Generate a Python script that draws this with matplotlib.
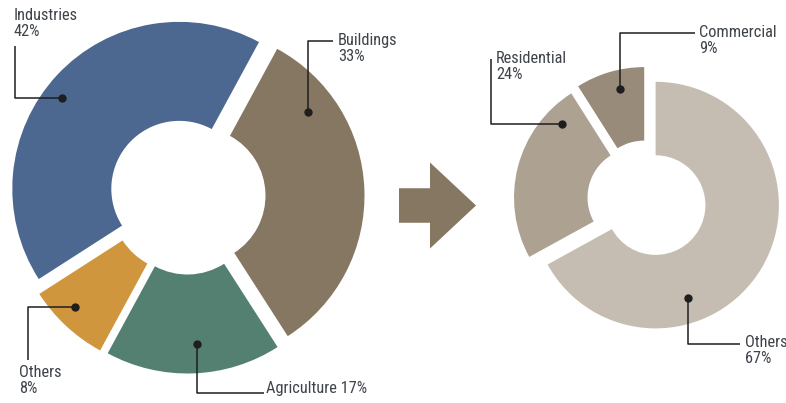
import matplotlib
matplotlib.use("Agg")
import matplotlib.pyplot as plt
from matplotlib.patches import FancyArrow
from matplotlib import font_manager

# ---- data ----
left_labels = ["Industries", "Buildings", "Agriculture", "Others"]
left_values = [42, 33, 17, 8]
left_colors = ["#4D6890", "#857761", "#548072", "#D0963E"]

right_labels = ["Others", "Residential", "Commercial"]
right_values = [67, 24, 9]
right_colors = ["#C5BDB2", "#ADA291", "#988B79"]

W, H = 786, 403
fig = plt.figure(figsize=(W / 100, H / 100), dpi=100)
ax = fig.add_axes([0, 0, 1, 1])

names = {f.name for f in font_manager.fontManager.ttflist}
fam = [f for f in ["Liberation Sans Narrow", "Roboto Condensed", "DejaVu Sans"] if f in names] or ["DejaVu Sans"]


def P(x, y):
    """pixel (top-left origin) -> data coords"""
    return x, H - y


# left donut
cx, cy = P(187, 196)
R1 = 167
ax.pie(left_values, colors=left_colors, startangle=212.7, counterclock=False,
       radius=R1, center=(cx, cy), explode=[10.5] * len(left_values),
       wedgeprops=dict(width=99, linewidth=0))

# right donut
cx2, cy2 = P(647, 200)
R2 = 123.3
ax.pie(right_values, colors=right_colors, startangle=90, counterclock=False,
       radius=R2, center=(cx2, cy2), explode=[10] * len(right_values),
       wedgeprops=dict(width=73.5, linewidth=0))

# arrow
ax.add_patch(FancyArrow(*P(399, 205.5), 77, 0, width=34.5, head_width=86,
                        head_length=46, length_includes_head=True,
                        color="#857761", linewidth=0))

ax.set_xlim(0, W)
ax.set_ylim(0, H)
ax.set_aspect("auto")
ax.axis("off")

TXT = "#3E434A"
LINE = "#1E1E1E"
FS = 11.8


def leader(pts, dot):
    xs = [P(*p)[0] for p in pts]
    ys = [P(*p)[1] for p in pts]
    ax.plot(xs, ys, color=LINE, lw=1.1, solid_capstyle="butt", zorder=5)
    ax.plot(*P(*dot), "o", color=LINE, ms=5, zorder=6)


def label(x, y, s):
    ax.text(*P(x, y), s, ha="left", va="top", fontsize=FS, color=TXT,
            family=fam, linespacing=1.12, zorder=7)


# left labels
label(14, 8, f"{left_labels[0]}\n{left_values[0]}%")
leader([(15, 46), (15, 97.7), (62, 97.7)], (62, 97.7))

label(338, 33, f"{left_labels[1]}\n{left_values[1]}%")
leader([(333, 40.7), (308, 40.7), (308, 112)], (308, 112))

label(19, 365, f"{left_labels[3]}\n{left_values[3]}%")
leader([(28, 360), (28, 307), (75, 307)], (75, 307))

label(266, 381, f"{left_labels[2]} {left_values[2]}%")
leader([(197, 344), (197, 393), (264, 393)], (197, 344))

# right labels
label(699, 25, f"{right_labels[2]}\n{right_values[2]}%")
leader([(695, 33), (620, 33), (620, 89)], (620, 89))

label(496, 51, f"{right_labels[1]}\n{right_values[1]}%")
leader([(491, 59), (491, 124), (562, 124)], (562, 124))

label(745, 335, f"{right_labels[0]}\n{right_values[0]}%")
leader([(688, 298), (688, 344), (740, 344)], (688, 298))

fig.savefig("out.png", dpi=100)
